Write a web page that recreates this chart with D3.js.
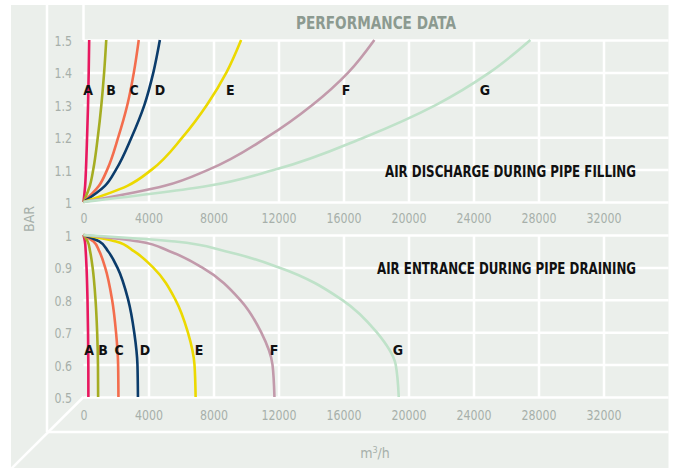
<!DOCTYPE html>
<html>
<head>
<meta charset="utf-8">
<script src="https://cdn.jsdelivr.net/npm/d3@7"></script>
<style>
  body { margin: 0; background: #fff; }
  text { font-family: "Liberation Sans Narrow", "DejaVu Sans Condensed", "Roboto", sans-serif; }
</style>
</head>
<body>
<svg id="chart" width="675" height="468"></svg>
<script>
(function() {

  // curve names and colours
  var curveNames = ['A', 'B', 'C', 'D', 'E', 'F', 'G']
  var curveColors = ['#e8185f', '#a5ad22', '#f36d4d', '#0b3c6b', '#ecd900', '#c29aab', '#bfe2c9']

  // air discharge during pipe filling: bar levels and flow (m3/h) for each curve
  var fillBar = [1, 1.05, 1.1, 1.2, 1.3, 1.4, 1.5]
  var fillA = [0, 100, 150, 220, 280, 320, 350]
  var fillB = [0, 390, 600, 880, 1100, 1270, 1400]
  var fillC = [0, 950, 1460, 2140, 2700, 3100, 3400]
  var fillD = [0, 1320, 2000, 2960, 3750, 4300, 4700]
  var fillE = [0, 2700, 4200, 6100, 7600, 8800, 9700]
  var fillF = [0, 5000, 7700, 11300, 14100, 16300, 17900]
  var fillG = [0, 7700, 11800, 17300, 21700, 25000, 27500]

  // air entrance during pipe draining
  var drainBar = [1, 0.98, 0.95, 0.9, 0.8, 0.7, 0.6, 0.5]
  var drainA = [0, 87, 135, 186, 246, 279, 297, 300]
  var drainB = [0, 260, 405, 560, 740, 840, 890, 900]
  var drainC = [0, 620, 970, 1330, 1760, 2000, 2130, 2150]
  var drainD = [0, 970, 1510, 2080, 2750, 3120, 3320, 3350]
  var drainE = [0, 2000, 3100, 4280, 5660, 6420, 6830, 6900]
  var drainF = [0, 3400, 5290, 7290, 9640, 10930, 11630, 11750]
  var drainG = [0, 5630, 8730, 12030, 15910, 18040, 19210, 19400]

  // where the letters sit (flow, bar)
  var fillLabelFlow = [280, 1690, 3110, 4710, 9030, 16150, 24700]
  var fillLabelBar = 1.345
  var drainLabelFlow = [340, 1200, 2190, 3780, 7110, 11720, 19350]
  var drainLabelBar = 0.645

  // tick values
  var flowTicks = [0, 4000, 8000, 12000, 16000, 20000, 24000, 28000, 32000]
  var fillTicks = [1, 1.1, 1.2, 1.3, 1.4, 1.5]
  var drainTicks = [0.5, 0.6, 0.7, 0.8, 0.9, 1]

  var bg = '#ebefeb'
  var tickColor = '#a7afaa'
  var plotLeft = 83.5, plotRight = 668.5

  var svg = d3.select('#chart')

  var xPositionScale = d3.scaleLinear().domain([0, 36000]).range([plotLeft, plotRight])
  var yFillScale = d3.scaleLinear().domain([1, 1.5]).range([202, 40])
  var yDrainScale = d3.scaleLinear().domain([0.5, 1]).range([397, 235])

  // no condensed font here, so squeeze the text to the DIN-like widths
  function narrow(sel) {
    sel.each(function() {
      var s = this.textContent
      var w = 0
      for (var i = 0; i < s.length; i++) w += (s[i] === '.' ? 3.5 : 7)
      d3.select(this).attr('textLength', w).attr('lengthAdjust', 'spacingAndGlyphs')
    })
  }

  // background "room"
  svg.append('rect')
    .attr('x', 11).attr('y', 5)
    .attr('width', plotRight - 11).attr('height', 463)
    .attr('fill', bg)

  var wall = svg.append('g')
    .attr('stroke', '#fff')
    .attr('stroke-width', 2.5)
    .attr('fill', 'none')
  wall.append('line').attr('x1', 47).attr('x2', 47).attr('y1', 5).attr('y2', 432)
  wall.append('line').attr('x1', plotLeft).attr('x2', plotLeft).attr('y1', 5).attr('y2', 40)
  wall.append('line').attr('x1', 47).attr('x2', plotRight).attr('y1', 432).attr('y2', 432)
  wall.append('line').attr('x1', plotLeft).attr('x2', 11).attr('y1', 397).attr('y2', 469)

  // grid lines through axes
  function drawGrid(yScale, ticks, top, bottom) {
    svg.append('g')
      .attr('class', 'grid')
      .attr('transform', 'translate(' + plotLeft + ',0)')
      .call(d3.axisLeft(yScale).tickValues(ticks).tickSize(-(plotRight - plotLeft)).tickFormat(''))
    svg.append('g')
      .attr('class', 'grid')
      .attr('transform', 'translate(0,' + bottom + ')')
      .call(d3.axisBottom(xPositionScale).tickValues(flowTicks.slice(1)).tickSize(-(bottom - top)).tickFormat(''))
    svg.selectAll('.grid .domain').remove()
    svg.selectAll('.grid line').attr('stroke', '#fff').attr('stroke-width', 2.5)
  }
  drawGrid(yFillScale, fillTicks, 40, 202)
  drawGrid(yDrainScale, drainTicks, 235, 397)

  // tick labels
  function drawYAxis(yScale, ticks) {
    var g = svg.append('g')
      .attr('class', 'axis y-axis')
      .attr('transform', 'translate(75,1)')
      .call(d3.axisLeft(yScale).tickValues(ticks).tickSize(0).tickFormat(d3.format('~g')))
    g.select('.domain').remove()
    g.selectAll('text')
      .attr('fill', tickColor)
      .style('font-size', '14px')
      .call(narrow)
  }
  drawYAxis(yFillScale, fillTicks)
  drawYAxis(yDrainScale, drainTicks)

  function drawXAxis(y) {
    var g = svg.append('g')
      .attr('class', 'axis x-axis')
      .attr('transform', 'translate(0,' + y + ')')
      .call(d3.axisBottom(xPositionScale).tickValues(flowTicks).tickSize(0).tickFormat(d3.format('d')))
    g.select('.domain').remove()
    g.selectAll('text')
      .attr('fill', tickColor)
      .attr('dy', '0.32em')
      .attr('y', 0)
      .style('font-size', '14px')
      .call(narrow)
  }
  drawXAxis(219)
  drawXAxis(416)

  // curves
  function drawCurves(bars, flows, yScale) {
    var line = d3.line()
      .x(function(d) { return xPositionScale(d.flow) })
      .y(function(d) { return yScale(d.bar) })
      .curve(d3.curveMonotoneY)

    flows.forEach(function(values, i) {
      var points = values.map(function(v, j) { return { flow: v, bar: bars[j] } })
      points.sort(function(a, b) { return a.bar - b.bar })
      svg.append('path')
        .datum(points)
        .attr('d', line)
        .attr('fill', 'none')
        .attr('stroke', curveColors[i])
        .attr('stroke-width', 2.6)
    })
  }
  drawCurves(fillBar, [fillA, fillB, fillC, fillD, fillE, fillF, fillG], yFillScale)
  drawCurves(drainBar, [drainA, drainB, drainC, drainD, drainE, drainF, drainG], yDrainScale)

  // curve letters
  function drawLetters(flows, bar, yScale) {
    svg.append('g')
      .selectAll('text')
      .data(curveNames)
      .enter()
      .append('text')
      .attr('x', function(d, i) { return xPositionScale(flows[i]) })
      .attr('y', yScale(bar))
      .attr('dy', '0.36em')
      .attr('text-anchor', 'middle')
      .attr('fill', '#111')
      .style('font-size', '14px')
      .style('font-weight', 'bold')
      .text(function(d) { return d })
  }
  drawLetters(fillLabelFlow, fillLabelBar, yFillScale)
  drawLetters(drainLabelFlow, drainLabelBar, yDrainScale)

  // titles
  svg.append('text')
    .attr('x', (plotLeft + plotRight) / 2)
    .attr('y', 29)
    .attr('text-anchor', 'middle')
    .attr('fill', '#8c9a90')
    .attr('textLength', 160)
    .attr('lengthAdjust', 'spacingAndGlyphs')
    .style('font-size', '18px')
    .style('font-weight', 'bold')
    .text('PERFORMANCE DATA')

  svg.append('text')
    .attr('x', 636).attr('y', 177)
    .attr('text-anchor', 'end')
    .attr('fill', '#111')
    .attr('textLength', 251)
    .attr('lengthAdjust', 'spacingAndGlyphs')
    .style('font-size', '15px')
    .style('font-weight', 'bold')
    .text('AIR DISCHARGE DURING PIPE FILLING')

  svg.append('text')
    .attr('x', 636).attr('y', 274)
    .attr('text-anchor', 'end')
    .attr('fill', '#111')
    .attr('textLength', 259)
    .attr('lengthAdjust', 'spacingAndGlyphs')
    .style('font-size', '15px')
    .style('font-weight', 'bold')
    .text('AIR ENTRANCE DURING PIPE DRAINING')

  svg.append('text')
    .attr('transform', 'translate(34,219) rotate(-90)')
    .attr('text-anchor', 'middle')
    .attr('fill', tickColor)
    .style('font-size', '14px')
    .text('BAR')

  var unit = svg.append('text')
    .attr('x', 375).attr('y', 458)
    .attr('text-anchor', 'middle')
    .attr('fill', tickColor)
    .style('font-size', '14px')
  unit.append('tspan').text('m')
  unit.append('tspan').attr('dy', -5).style('font-size', '9px').text('3')
  unit.append('tspan').attr('dy', 5).text('/h')

})()
</script>
</body>
</html>
